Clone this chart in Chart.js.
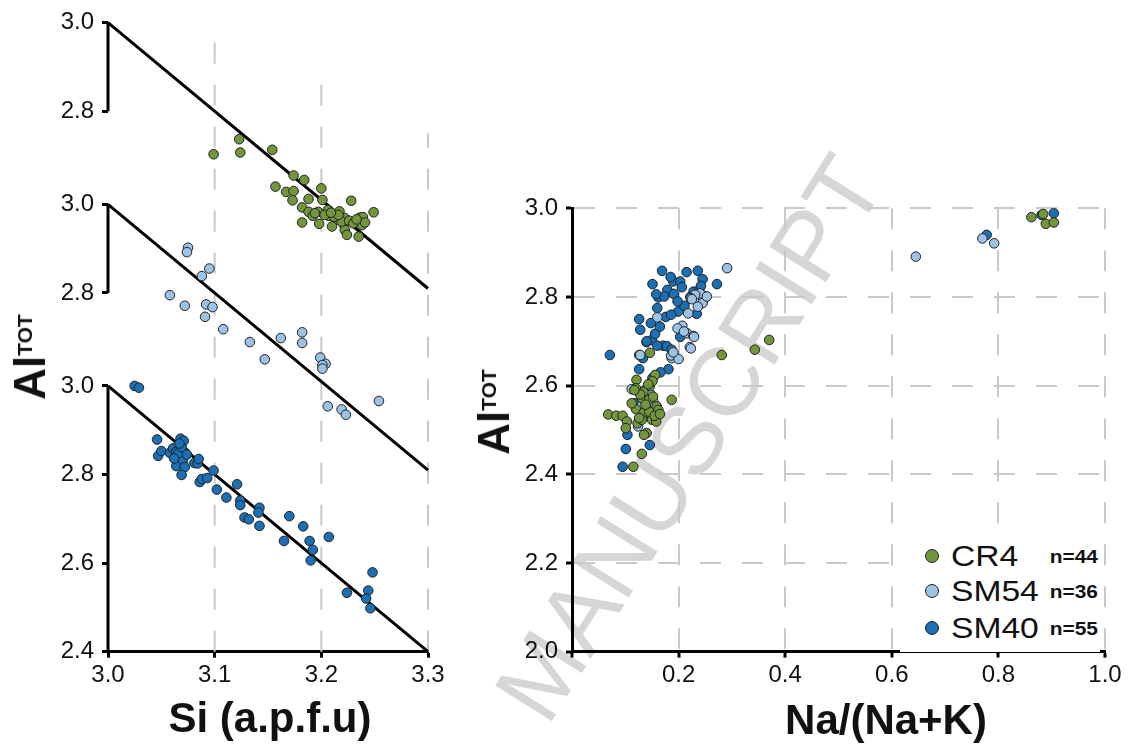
<!DOCTYPE html>
<html>
<head>
<meta charset="utf-8">
<script src="https://cdn.jsdelivr.net/npm/chart.js@4.4.0/dist/chart.umd.min.js"></script>
<style>
  body { margin: 0; background: #fff; font-family: 'Liberation Sans', Arial, sans-serif; }
  #wrap { position: relative; width: 1129px; height: 747px; overflow: hidden; }
  canvas { position: absolute; top: 0; }
  #left { left: 0; }
  #right { left: 450px; }
  .mark { position: absolute; left: 689px; top: 438px; transform: translate(-50%, -50%) rotate(-58deg);
          font-size: 97px; line-height: 1; color: #d6d6d6; white-space: nowrap; }
  .ytitle { position: absolute; transform: translate(-50%, -50%) rotate(-90deg); font-weight: bold;
            font-size: 44px; line-height: 1; white-space: nowrap; color: #111; }
  .ytitle span { font-size: 21px; position: relative; top: -13.5px; }
  .xtitle { position: absolute; transform: translate(-50%, -50%); font-weight: bold; font-size: 42px;
            line-height: 1; white-space: nowrap; color: #111; }
  #legendBox { position: absolute; left: 900px; top: 530px; width: 200px; height: 121.6px; background: #fff; }
  .ldot { position: absolute; width: 12px; height: 12px; border-radius: 50%; border: 1px solid #222;
          transform: translate(-50%, -50%); }
  .lname { position: absolute; font-size: 30px; line-height: 1; color: #111; transform: translateY(-50%) scaleX(1.12);
           transform-origin: left center; }
  .ln { position: absolute; font-size: 19px; font-weight: bold; line-height: 1; color: #111;
        transform: translate(-100%, -50%) scaleX(1.1); transform-origin: right center; }
</style>
</head>
<body>
<div id="wrap">
  <div class="mark">MANUSCRIPT</div>
  <canvas id="left" width="450" height="747"></canvas>
  <canvas id="right" width="679" height="747"></canvas>
  <div class="ytitle" style="left:30px; top:357px;">Al<span>TOT</span></div>
  <div class="ytitle" style="left:494px; top:412px;">Al<span>TOT</span></div>
  <div class="xtitle" style="left:270px; top:718px;">Si (a.p.f.u)</div>
  <div class="xtitle" style="left:886px; top:720px;">Na/(Na+K)</div>
  <div id="legendBox"></div>
  <div id="legend"></div>
</div>
<script>
// sample names, colours and counts
const sampleNames = ['CR4', 'SM54', 'SM40'];
const sampleColors = ['#72963b', '#9cc2e5', '#1a6fb5'];
const sampleCounts = ['n=44', 'n=36', 'n=55'];

// left panel: Si vs Al(tot), each sample shifted up by its offset
const sectionOffsets = [0.82, 0.41, 0];
const siTicks = [3.0, 3.1, 3.2, 3.3];
const alSectionTicks = [2.8, 3.0];
const alBottomTicks = [2.4, 2.6, 2.8, 3.0];
const fitSi = [3.0, 3.3];
const fitAl = [3.0, 2.4];
const axisBottomAl = [2.8, 2.8, 2.4];
const gridSi = [3.1, 3.2, 3.3];
const gridTopAl = [3.82, 3.70, 3.57];

const siCR4 = [3.099, 3.123, 3.124, 3.154, 3.174, 3.184, 3.157, 3.167, 3.174, 3.173,
  3.200, 3.201, 3.188, 3.182, 3.188, 3.192, 3.197, 3.182, 3.198, 3.206,
  3.207, 3.217, 3.214, 3.210, 3.222, 3.221, 3.222, 3.224, 3.228, 3.235,
  3.236, 3.239, 3.238, 3.241, 3.249, 3.194, 3.203, 3.212, 3.219, 3.226,
  3.230, 3.216, 3.209, 3.233];
const alCR4 = [2.703, 2.737, 2.707, 2.713, 2.655, 2.645, 2.630, 2.618, 2.620, 2.599,
  2.626, 2.600, 2.602, 2.583, 2.573, 2.564, 2.573, 2.549, 2.546, 2.577,
  2.564, 2.574, 2.555, 2.540, 2.559, 2.545, 2.532, 2.521, 2.598, 2.517,
  2.560, 2.561, 2.543, 2.549, 2.572, 2.570, 2.566, 2.562, 2.551, 2.553,
  2.547, 2.566, 2.571, 2.556];

const siSM54 = [3.075, 3.074, 3.095, 3.088, 3.058, 3.072, 3.092, 3.098, 3.091, 3.108,
  3.133, 3.147, 3.162, 3.182, 3.182, 3.199, 3.204, 3.201, 3.201, 3.206,
  3.219, 3.223, 3.254];
const alSM54 = [2.902, 2.892, 2.855, 2.838, 2.795, 2.771, 2.774, 2.768, 2.746, 2.718,
  2.689, 2.650, 2.698, 2.711, 2.687, 2.654, 2.640, 2.637, 2.629, 2.544,
  2.537, 2.525, 2.556];

const siSM40 = [3.025, 3.029, 3.046, 3.047, 3.050, 3.058, 3.061, 3.065, 3.068, 3.071,
  3.072, 3.067, 3.070, 3.064, 3.072, 3.069, 3.081, 3.084, 3.085, 3.099,
  3.086, 3.088, 3.093, 3.102, 3.111, 3.121, 3.124, 3.124, 3.128, 3.132,
  3.142, 3.141, 3.142, 3.165, 3.170, 3.183, 3.189, 3.192, 3.190, 3.207,
  3.224, 3.244, 3.242, 3.246, 3.248, 3.064, 3.066, 3.069, 3.074, 3.062,
  3.067];
const alSM40 = [3.000, 2.996, 2.879, 2.842, 2.853, 2.849, 2.859, 2.853, 2.881, 2.876,
  2.850, 2.840, 2.831, 2.819, 2.817, 2.799, 2.826, 2.825, 2.835, 2.809,
  2.783, 2.790, 2.792, 2.766, 2.748, 2.778, 2.741, 2.731, 2.703, 2.699,
  2.725, 2.714, 2.684, 2.650, 2.706, 2.683, 2.650, 2.630, 2.606, 2.659,
  2.533, 2.538, 2.520, 2.498, 2.579, 2.851, 2.848, 2.862, 2.845, 2.836,
  2.870];

// right panel: Na/(Na+K) vs Al(tot)
const naTicks = [0, 0.2, 0.4, 0.6, 0.8, 1.0];
const naTickLabels = ['', '0.2', '0.4', '0.6', '0.8', '1.0'];
const alTicks = [2.0, 2.2, 2.4, 2.6, 2.8, 3.0];

const naCR4 = [0.146, 0.281, 0.343, 0.370, 0.187, 0.156, 0.146, 0.121, 0.068, 0.083,
  0.095, 0.103, 0.101, 0.120, 0.131, 0.134, 0.120, 0.145, 0.159, 0.123,
  0.134, 0.145, 0.150, 0.158, 0.131, 0.140, 0.135, 0.131, 0.115, 0.862,
  0.884, 0.889, 0.904, 0.112, 0.128, 0.151, 0.162, 0.138, 0.126, 0.155,
  0.143, 0.117, 0.165, 0.152];
const alCR4R = [2.674, 2.669, 2.681, 2.703, 2.568, 2.624, 2.599, 2.613, 2.535, 2.532,
  2.532, 2.519, 2.504, 2.547, 2.572, 2.586, 2.594, 2.569, 2.553, 2.515,
  2.538, 2.541, 2.523, 2.519, 2.523, 2.493, 2.489, 2.446, 2.417, 2.980,
  2.987, 2.965, 2.968, 2.560, 2.580, 2.610, 2.545, 2.557, 2.527, 2.532,
  2.603, 2.590, 2.536, 2.575];

const naSM54 = [0.291, 0.251, 0.246, 0.240, 0.231, 0.223, 0.218, 0.207, 0.198, 0.216,
  0.228, 0.221, 0.187, 0.187, 0.160, 0.126, 0.112, 0.151, 0.153, 0.124,
  0.645, 0.770, 0.792, 0.223, 0.229, 0.128, 0.186, 0.245, 0.253, 0.225,
  0.210, 0.148, 0.200, 0.236, 0.131, 0.190];
const alSM54R = [2.865, 2.801, 2.792, 2.808, 2.805, 2.797, 2.763, 2.735, 2.729, 2.718,
  2.712, 2.687, 2.669, 2.662, 2.754, 2.669, 2.592, 2.572, 2.562, 2.508,
  2.891, 2.932, 2.921, 2.684, 2.710, 2.669, 2.668, 2.786, 2.801, 2.795,
  2.722, 2.580, 2.660, 2.778, 2.555, 2.675];

const naSM40 = [0.071, 0.095, 0.101, 0.104, 0.146, 0.126, 0.133, 0.151, 0.181, 0.128,
  0.126, 0.140, 0.150, 0.156, 0.165, 0.160, 0.162, 0.151, 0.169, 0.179,
  0.173, 0.190, 0.203, 0.206, 0.191, 0.199, 0.211, 0.215, 0.236, 0.245,
  0.228, 0.239, 0.242, 0.234, 0.272, 0.203, 0.171, 0.178, 0.187, 0.148,
  0.778, 0.904, 0.881, 0.158, 0.148, 0.140, 0.166, 0.185, 0.198, 0.176,
  0.186, 0.222, 0.160, 0.118, 0.137];
const alSM40R = [2.669, 2.417, 2.457, 2.489, 2.466, 2.637, 2.662, 2.617, 2.637, 2.726,
  2.750, 2.698, 2.703, 2.717, 2.733, 2.775, 2.799, 2.829, 2.859, 2.816,
  2.801, 2.835, 2.835, 2.822, 2.807, 2.767, 2.780, 2.856, 2.859, 2.840,
  2.812, 2.816, 2.825, 2.762, 2.829, 2.710, 2.690, 2.689, 2.681, 2.530,
  2.940, 2.989, 2.985, 2.806, 2.741, 2.700, 2.630, 2.845, 2.790, 2.755,
  2.760, 2.800, 2.690, 2.560, 2.590];

const tickFont = { family: "'Liberation Sans', Arial, sans-serif", size: 24 };
const gridGrey = '#c9c9c9';
const dash = [21, 21];

function pts(xs, ys, off) {
  return xs.map((x, i) => ({ x: x, y: ys[i] + (off || 0) }));
}

function pointSet(label, data, color, order) {
  return { label, data, order, backgroundColor: color, borderColor: '#222', borderWidth: 1,
    pointRadius: 4.8, pointHoverRadius: 4.8, showLine: false };
}

function lineSet(data, color, width, dashPat, order) {
  return { data, order, showLine: true, borderColor: color, borderWidth: width, borderDash: dashPat || [],
    pointRadius: 0, fill: false, clip: false, borderCapStyle: 'butt' };
}

// ---------- left chart ----------
const leftTickValues = alBottomTicks.slice();
const leftTickLabels = alBottomTicks.map(v => v.toFixed(1));
[1, 0].forEach(k => {
  alSectionTicks.forEach(v => {
    leftTickValues.push(+(v + sectionOffsets[k]).toFixed(3));
    leftTickLabels.push(v.toFixed(1));
  });
});

const leftSets = [];
gridSi.forEach((s, i) => {
  leftSets.push(lineSet([{ x: s, y: 2.4 }, { x: s, y: gridTopAl[i] }], gridGrey, 2, dash, 20));
});
sectionOffsets.forEach((off, k) => {
  leftSets.push(lineSet([{ x: fitSi[0], y: axisBottomAl[k] + off }, { x: fitSi[0], y: 3.0 + off }], '#000', 3, null, 10));
  leftSets.push(lineSet([{ x: fitSi[0], y: fitAl[0] + off }, { x: fitSi[1], y: fitAl[1] + off }], '#000', 3, null, 10));
});
leftSets.push(pointSet(sampleNames[0], pts(siCR4, alCR4, sectionOffsets[0]), sampleColors[0], 0));
leftSets.push(pointSet(sampleNames[1], pts(siSM54, alSM54, sectionOffsets[1]), sampleColors[1], 1));
leftSets.push(pointSet(sampleNames[2], pts(siSM40, alSM40, sectionOffsets[2]), sampleColors[2], 2));

new Chart(document.getElementById('left'), {
  type: 'scatter',
  data: { datasets: leftSets },
  options: {
    responsive: false, animation: false, events: [],
    layout: { padding: { top: 22.7, right: 22, bottom: 0, left: 0 } },
    plugins: { legend: { display: false }, tooltip: { enabled: false } },
    scales: {
      x: {
        type: 'linear', min: 3.0, max: 3.3,
        afterBuildTicks: s => { s.ticks = siTicks.map(v => ({ value: v })); },
        afterFit: s => { s.height = 95.3; },
        ticks: { font: tickFont, color: '#111', padding: 3, maxRotation: 0, callback: v => v.toFixed(1) },
        grid: { drawOnChartArea: false, drawTicks: true, tickLength: 6, tickWidth: 3, tickColor: '#000' },
        border: { display: true, color: '#000', width: 3 }
      },
      y: {
        type: 'linear', min: 2.4, max: 3.82,
        afterBuildTicks: s => { s.ticks = leftTickValues.map(v => ({ value: v })); },
        afterFit: s => { s.width = 108; },
        ticks: { font: tickFont, color: '#111', padding: 8, callback: (v, i) => leftTickLabels[i] },
        grid: { drawOnChartArea: false, drawTicks: true, tickLength: 6, tickWidth: 3, tickColor: '#000' },
        border: { display: false }
      }
    }
  }
});

// ---------- right chart ----------
new Chart(document.getElementById('right'), {
  type: 'scatter',
  data: {
    datasets: [
      pointSet(sampleNames[0], pts(naCR4, alCR4R), sampleColors[0], 0),
      pointSet(sampleNames[1], pts(naSM54, alSM54R), sampleColors[1], 1),
      pointSet(sampleNames[2], pts(naSM40, alSM40R), sampleColors[2], 2)
    ]
  },
  options: {
    responsive: false, animation: false, events: [],
    layout: { padding: { top: 208.3, right: 24, bottom: 0, left: 0 } },
    plugins: { legend: { display: false }, tooltip: { enabled: false } },
    scales: {
      x: {
        type: 'linear', min: 0, max: 1.0,
        afterBuildTicks: s => { s.ticks = naTicks.map(v => ({ value: v })); },
        afterFit: s => { s.height = 95.4; },
        ticks: { font: tickFont, color: '#111', padding: 3, maxRotation: 0, callback: (v, i) => naTickLabels[i] },
        grid: { color: c => (c.tick && c.tick.value === 0 ? 'rgba(0,0,0,0)' : gridGrey), lineWidth: 2,
                drawTicks: true, tickLength: 6, tickWidth: 3, tickColor: '#000' },
        border: { display: true, color: '#000', width: 3, dash: dash }
      },
      y: {
        type: 'linear', min: 2.0, max: 3.0,
        afterBuildTicks: s => { s.ticks = alTicks.map(v => ({ value: v })); },
        afterFit: s => { s.width = 122; },
        ticks: { font: tickFont, color: '#111', padding: 8, callback: v => v.toFixed(1) },
        grid: { color: c => (c.tick && c.tick.value === 2.0 ? 'rgba(0,0,0,0)' : gridGrey), lineWidth: 2,
                drawTicks: true, tickLength: 6, tickWidth: 3, tickColor: '#000' },
        border: { display: true, color: '#000', width: 3, dash: dash }
      }
    }
  }
});

// ---------- legend ----------
const legendRows = [556, 591, 628];
const legend = document.getElementById('legend');
legend.innerHTML = sampleNames.map((n, i) =>
  `<div class="ldot" style="left:932px; top:${legendRows[i]}px; background:${sampleColors[i]}"></div>` +
  `<div class="lname" style="left:951px; top:${legendRows[i]}px;">${n}</div>` +
  `<div class="ln" style="left:1098px; top:${legendRows[i]}px;">${sampleCounts[i]}</div>`
).join('');
</script>
</body>
</html>
